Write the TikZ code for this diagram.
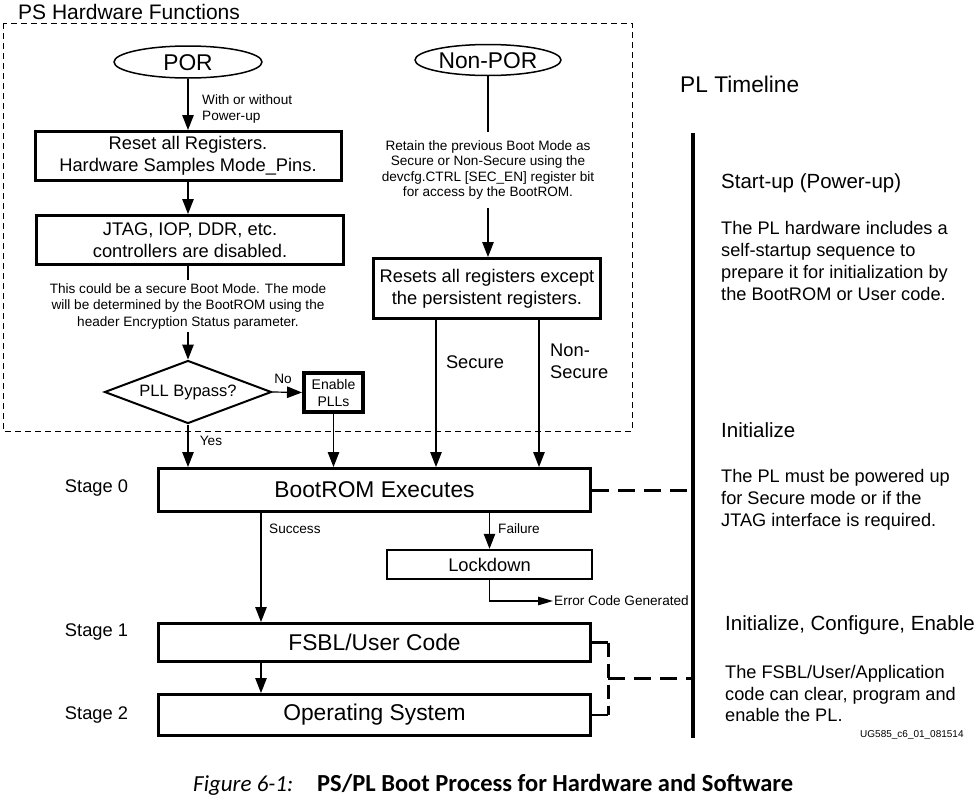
\documentclass[tikz,border=0pt]{standalone}
\usepackage{fontspec}
\setmainfont{Liberation Sans}
\newfontfamily\capfont{Carlito}
\usetikzlibrary{shapes.geometric,arrows.meta,calc}
\begin{document}
\begin{tikzpicture}[x=1pt,y=-1pt,
    bootBox/.style={rectangle,draw=black,line width=3pt,align=center,inner sep=0pt,font=\fontsize{18.3}{21.7}\selectfont},
    bootBig/.style={bootBox,font=\fontsize{22.8}{27}\selectfont,minimum width=432pt},
    bootEll/.style={ellipse,draw=black,line width=1.5pt,inner sep=0pt,text height=16pt,text depth=0pt,font=\fontsize{22.8}{27}\selectfont},
    bootDia/.style={diamond,draw=black,line width=2pt,inner sep=0pt,aspect=2.65,font=\fontsize{16.5}{20}\selectfont},
    bootNote/.style={align=center,inner xsep=0pt,font=\fontsize{13.6}{16.5}\selectfont},
    bootLbl/.style={font=\fontsize{18.3}{22}\selectfont,inner sep=0pt},
    bootSm/.style={font=\fontsize{13.6}{16}\selectfont,inner sep=1pt},
    plHead/.style={anchor=west,inner sep=0pt,font=\fontsize{20.5}{24}\selectfont},
    plText/.style={anchor=west,align=left,inner sep=0pt,font=\fontsize{18.2}{21.8}\selectfont},
    bootArr/.style={-{Triangle[length=15pt,width=11.5pt]},line width=1.2pt},
    plDash/.style={line width=3pt,dash pattern=on 17pt off 9pt},
]
\useasboundingbox (0,0) rectangle (978,798);
% PS hardware region
\draw[line width=1pt,dash pattern=on 6pt off 4pt] (3,23) rectangle (632,431);
\node[anchor=west,inner sep=0pt,font=\fontsize{21}{25}\selectfont] (psHead) at (18,12) {PS Hardware Functions};
\node[bootEll,minimum width=148pt,minimum height=32pt] (por) at (188,62) {POR};
\node[bootEll,minimum width=146pt,minimum height=31pt] (nonPor) at (488,60) {Non-POR};
\node[bootBox,minimum width=306pt,minimum height=49pt] (rstAll) at (188,156) {Reset all Registers.\\Hardware Samples Mode\_Pins.};
\node[bootBox,minimum width=307pt,minimum height=49pt] (ctrlOff) at (190,240) {JTAG, IOP, DDR, etc.\\controllers are disabled.};
\node[bootNote,inner ysep=3pt] (secNote) at (188,306) {This could be a secure Boot Mode. The mode\\will be determined by the BootROM using the\\header Encryption Status parameter.};
\node[bootDia,minimum width=167pt,minimum height=63pt] (pllQ) at (188,392) {PLL Bypass?};
\node[bootBox,line width=4pt,minimum width=59pt,minimum height=39pt,font=\fontsize{14}{17}\selectfont] (pllOn) at (333.5,392.5) {Enable\\PLLs};
\node[bootNote,inner ysep=8pt,font=\fontsize{13.6}{15.5}\selectfont] (keepNote) at (488,170) {Retain the previous Boot Mode as\\Secure or Non-Secure using the\\devcfg.CTRL [SEC\_EN] register bit\\for access by the BootROM.};
\node[bootBox,minimum width=227pt,minimum height=60pt] (rstPart) at (487,288.5) {Resets all registers except\\the persistent registers.};
% boot stages
\node[bootBig,minimum height=43pt] (bootRom) at (374.5,490) {BootROM Executes};
\node[bootBox,line width=2.5pt,minimum width=205pt,minimum height=29pt] (lockDn) at (489.5,564.5) {Lockdown};
\node[bootBig,minimum height=38pt] (fsbl) at (374.5,642.5) {FSBL/User Code};
\node[bootBig,minimum height=41pt] (osBox) at (374.5,715) {Operating System};
\node[bootLbl] (stg0) at (96.5,488) {Stage 0};
\node[bootLbl] (stg1) at (96.5,632) {Stage 1};
\node[bootLbl] (stg2) at (96.5,715) {Stage 2};
% labels
\node[bootSm,anchor=west,align=left] (porLbl) at (201,109) {With or without\\Power-up};
\node[bootSm] (noLbl) at (283,379) {No};
\node[bootSm] (yesLbl) at (211,441) {Yes};
\node[bootLbl] (secLbl) at (475,362) {Secure};
\node[bootLbl,anchor=west,align=left] (nsLbl) at (550,361) {Non-\\Secure};
\node[bootSm,anchor=west] (okLbl) at (268,529) {Success};
\node[bootSm,anchor=west] (failLbl) at (497,529) {Failure};
\node[bootSm,anchor=west] (errLbl) at (553,601) {Error Code Generated};
% connectors
\draw[bootArr] (por) -- (rstAll);
\draw[bootArr] (rstAll.south) -- (rstAll.south |- ctrlOff.north);
\draw[line width=1.2pt] (ctrlOff.south -| secNote.north) -- (secNote.north);
\draw[bootArr] (secNote.south) -- (pllQ.north);
\draw[bootArr] (pllQ.east) -- (pllOn.west);
\draw[bootArr] (pllQ.south) -- (pllQ.south |- bootRom.north);
\draw[bootArr] (pllOn.south) -- (pllOn.south |- bootRom.north);
\draw[line width=1.2pt] (nonPor.south) -- (keepNote.north);
\draw[bootArr] (keepNote.south) -- (keepNote.south |- rstPart.north);
\draw[bootArr] ([xshift=-51pt]rstPart.south) -- ([xshift=-51pt]rstPart.south |- bootRom.north);
\draw[bootArr] ([xshift=52pt]rstPart.south) -- ([xshift=52pt]rstPart.south |- bootRom.north);
\draw[bootArr] ([xshift=-113.5pt]bootRom.south) -- ([xshift=-113.5pt]bootRom.south |- fsbl.north);
\draw[bootArr] (lockDn.north |- bootRom.south) -- (lockDn.north);
\draw[bootArr,-{Triangle[length=15pt,width=8.5pt]}] (lockDn.south) |- (errLbl.west);
\draw[bootArr] ([xshift=-113.5pt]fsbl.south) -- ([xshift=-113.5pt]fsbl.south |- osBox.north);
% PL timeline
\coordinate (tlTop) at (693,133);
\coordinate (tlBot) at (693,738);
\draw[line width=4.5pt] (tlTop) -- (tlBot);
\draw[plDash] (bootRom.east) -- (bootRom.east -| tlTop);
\draw[line width=2.5pt] (fsbl.east) -- ++(16,0) coordinate (brkA);
\draw[line width=2.5pt] (osBox.east) -- ++(16,0) coordinate (brkB);
\draw[line width=3pt,dash pattern=on 14pt off 7pt] (brkA) -- (brkB);
\coordinate (brkM) at ($(brkA)!0.5!(brkB)$);
\draw[plDash] (brkM) -- (brkM -| tlTop);
\node[anchor=west,inner sep=0pt,font=\fontsize{22.7}{27}\selectfont] (plHd) at (680,84) {PL Timeline};
\node[plHead] (suHd) at (721,183) {Start-up (Power-up)};
\node[plText] (suTxt) at (721,261) {The PL hardware includes a\\self-startup sequence to\\prepare it for initialization by\\the BootROM or User code.};
\node[plHead] (inHd) at (721,430) {Initialize};
\node[plText] (inTxt) at (721,500) {The PL must be powered up\\for Secure mode or if the\\JTAG interface is required.};
\node[plHead] (icHd) at (725,625) {Initialize, Configure, Enable};
\node[plText] (icTxt) at (725,693.5) {The FSBL/User/Application\\code can clear, program and\\enable the PL.};
\node[anchor=west,inner sep=0pt,font=\fontsize{10}{12}\selectfont] (figId) at (860,735) {UG585\_c6\_01\_081514};
% caption
\node[anchor=base west,inner sep=0pt,font=\capfont\itshape\fontsize{23}{27}\selectfont] (capNo) at (193,791) {Figure 6-1:};
\node[anchor=base west,inner sep=0pt,font=\capfont\bfseries\fontsize{24.5}{29}\selectfont] (capTxt) at (317,791) {PS/PL Boot Process for Hardware and Software};
\end{tikzpicture}
\end{document}
